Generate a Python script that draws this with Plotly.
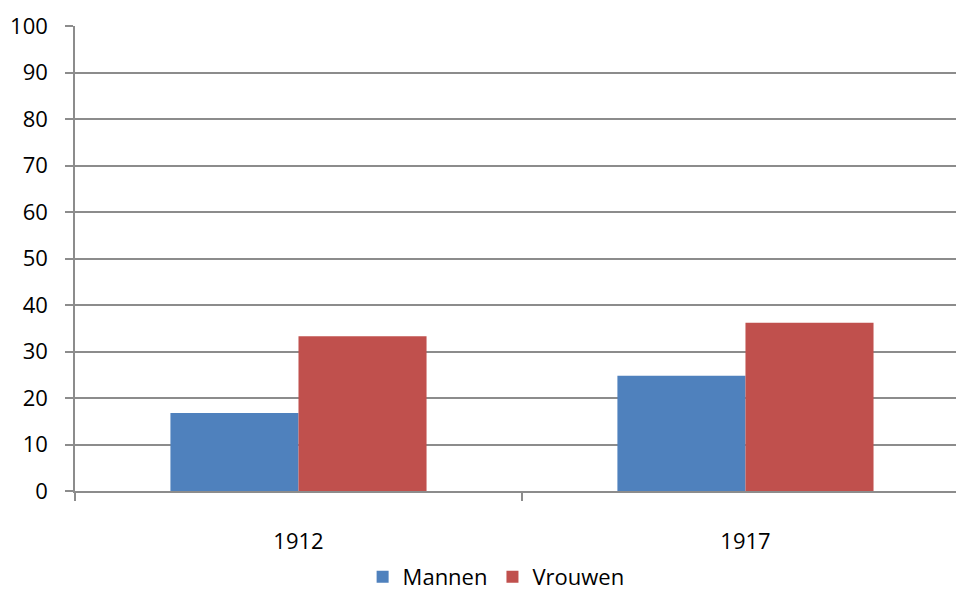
import plotly.graph_objects as go

categories = ["1912", "1917"]
mannen = [16.8, 24.8]
vrouwen = [33.3, 36.2]
y_ticks = [0, 10, 20, 30, 40, 50, 60, 70, 80, 90, 100]

FONT = "Open Sans, Liberation Sans, sans-serif"
GRID = "#8c8c8c"

fig = go.Figure()
fig.add_trace(go.Bar(x=categories, y=mannen, name="Mannen", marker_color="#4F81BD",
                     marker_line_width=0))
fig.add_trace(go.Bar(x=categories, y=vrouwen, name="Vrouwen", marker_color="#C0504D",
                     marker_line_width=0))

fig.update_layout(
    width=956, height=592,
    margin=dict(l=75, r=0, t=26, b=101, autoexpand=False),
    paper_bgcolor="white", plot_bgcolor="white",
    barmode="group", bargap=0.427, bargroupgap=0,
    font=dict(family=FONT, size=22, color="#000000"),
    showlegend=True,
    legend=dict(orientation="h", x=0.478, xanchor="center", y=-0.185, yanchor="middle",
                font=dict(family=FONT, size=22, color="#000000"), traceorder="normal",
                itemwidth=30),
)
fig.update_xaxes(
    type="category", range=[-0.5, 1.471], automargin=False,
    showline=True, linecolor=GRID, linewidth=1.5,
    ticks="outside", tickson="boundaries", ticklen=8, tickcolor=GRID, tickwidth=1.5,
    showgrid=False, ticklabelstandoff=30,
    tickfont=dict(family=FONT, size=22, color="#000000"),
)
fig.update_yaxes(
    range=[0, 100], tickvals=y_ticks, automargin=False,
    showline=True, linecolor=GRID, linewidth=1.5,
    ticks="outside", ticklen=8, tickcolor=GRID, tickwidth=1.5,
    showgrid=True, gridcolor=GRID, gridwidth=1.5,
    zeroline=False, ticklabelstandoff=13,
    tickfont=dict(family=FONT, size=22, color="#000000"),
)

fig.write_html(
    "out.html",
    config={"displayModeBar": False},
    post_script="document.body.style.margin='0';document.body.style.overflow='hidden';",
)
